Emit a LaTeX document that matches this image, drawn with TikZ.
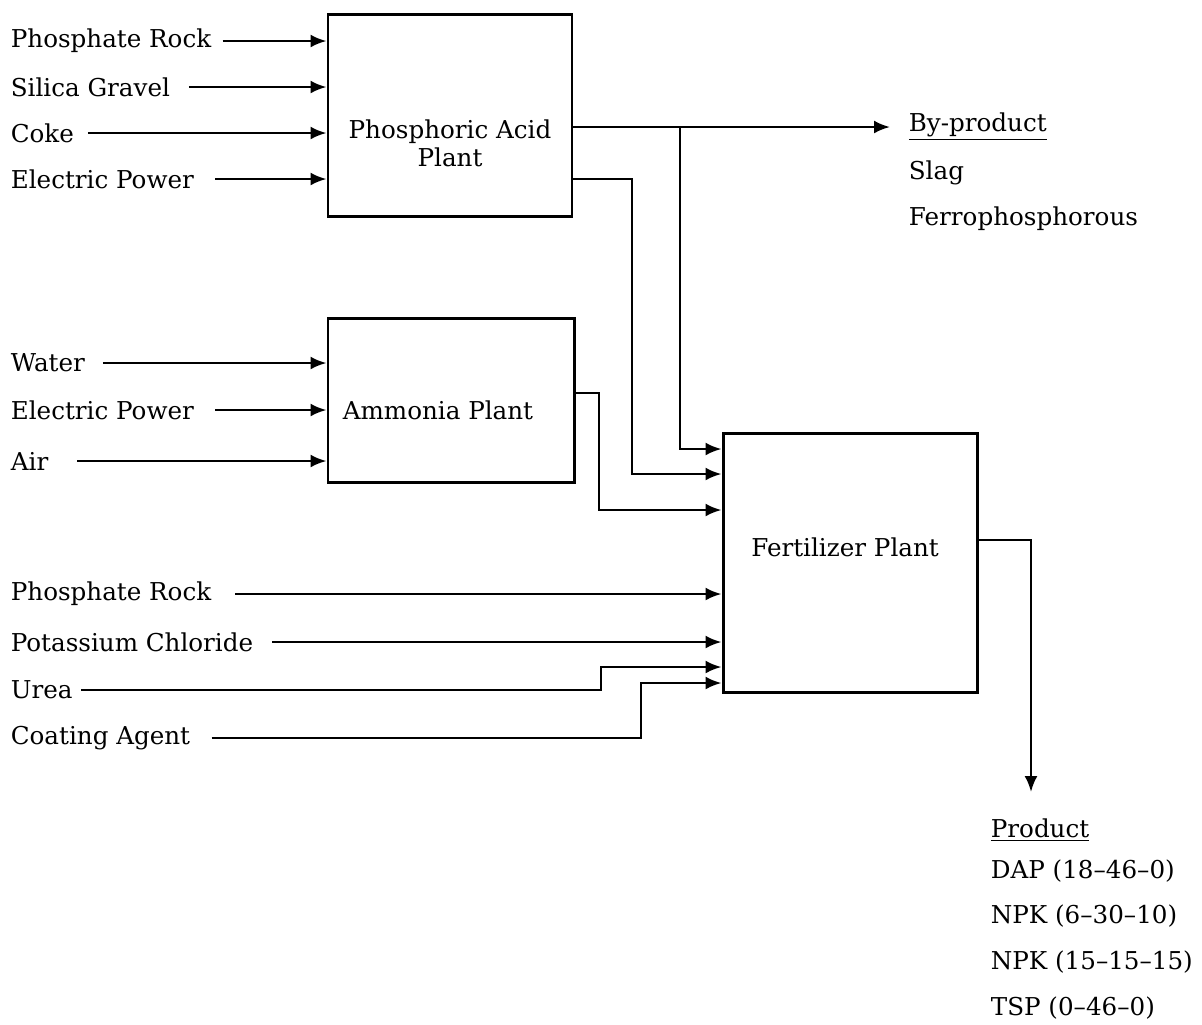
\documentclass[tikz,border=0pt]{standalone}
\usepackage{fontspec}
\setmainfont{DejaVu Serif}
\usepackage{tikz}
\usetikzlibrary{arrows.meta,positioning}

\begin{document}
\begin{tikzpicture}[
 plant/.style={draw, line width=1.7pt, inner sep=0pt},
 feed/.style={anchor=west, inner sep=2pt},
 arr/.style={-{Latex[length=3.2mm,width=2.6mm]}, line width=1.4pt},
 font=\fontsize{14}{16}\selectfont
]
\useasboundingbox (0,0) rectangle (24.04,-20.48);

\node[plant, minimum width=4.88cm, minimum height=4.04cm, label={[align=center,yshift=-0.56cm]center:Phosphoric Acid\\Plant}] (phos) at (9.0,-2.3) {};
\node[plant, minimum width=4.92cm, minimum height=3.28cm, label={[xshift=-0.26cm,yshift=-0.2cm]center:Ammonia Plant}] (ammonia) at (9.02,-8.0) {};
\node[plant, minimum width=5.08cm, minimum height=5.18cm, label={[xshift=-0.1cm,yshift=0.31cm]center:Fertilizer Plant}] (fert) at (17.0,-11.25) {};

\node[feed] (rockA) at (0.14,-0.82) {Phosphate Rock};
\node[feed] (silica) at (0.14,-1.74) {Silica Gravel};
\node[feed] (coke) at (0.14,-2.66) {Coke};
\node[feed] (powerA) at (0.14,-3.58) {Electric Power};

\node[feed] (water) at (0.14,-7.26) {Water};
\node[feed] (powerB) at (0.14,-8.2) {Electric Power};
\node[feed] (air) at (0.14,-9.22) {Air};

\node[feed] (rockB) at (0.14,-11.88) {Phosphate Rock};
\node[feed] (potash) at (0.14,-12.84) {Potassium Chloride};
\node[feed] (urea) at (0.14,-13.8) {Urea};
\node[feed] (coating) at (0.14,-14.76) {Coating Agent};

\node[feed] (byprod) at (18.1,-2.54) {\underline{By-product}};
\node[feed] (slag) at (18.1,-3.46) {Slag};
\node[feed] (ferro) at (18.1,-4.38) {Ferrophosphorous};

\node[feed] (prod) at (19.74,-16.6) {\underline{Product}};
\node[feed] (dap) at (19.74,-17.42) {DAP (18--46--0)};
\node[feed] (npkA) at (19.74,-18.32) {NPK (6--30--10)};
\node[feed] (npkB) at (19.74,-19.24) {NPK (15--15--15)};
\node[feed] (tsp) at (19.74,-20.16) {TSP (0--46--0)};

\coordinate (split) at (13.6,-2.54);
\coordinate (out) at (20.62,-15.84);

\draw[arr, shorten <=0.15cm] (rockA) -- (rockA -| phos.west);
\draw[arr, shorten <=0.3cm] (silica) -- (silica -| phos.west);
\draw[arr, shorten <=0.2cm] (coke) -- (coke -| phos.west);
\draw[arr, shorten <=0.35cm] (powerA) -- (powerA -| phos.west);

\draw[arr, shorten <=0.28cm] (water) -- (water -| ammonia.west);
\draw[arr, shorten <=0.35cm] (powerB) -- (powerB -| ammonia.west);
\draw[arr, shorten <=0.5cm] (air) -- (air -| ammonia.west);

\draw[arr, shorten >=0.3cm] (phos.east |- byprod.west) -- (byprod.west);
\draw[arr] (split) |- (fert.west |- 0,-8.98);
\draw[arr] (phos.east |- 0,-3.58) -| (12.64,-9.48) -- (fert.west |- 0,-9.48);
\draw[arr] (ammonia.east |- 0,-7.86) -| (11.98,-10.2) -- (fert.west |- 0,-10.2);

\draw[arr, shorten <=0.4cm] (rockB) -- (rockB -| fert.west);
\draw[arr, shorten <=0.3cm] (potash) -- (potash -| fert.west);
\draw[arr, shorten <=0.1cm] (urea) -| (12.02,-13.34) -- (fert.west |- 0,-13.34);
\draw[arr, shorten <=0.35cm] (coating) -| (12.82,-13.66) -- (fert.west |- 0,-13.66);

\draw[arr] (fert.east |- 0,-10.8) -| (out);
\end{tikzpicture}
\end{document}
